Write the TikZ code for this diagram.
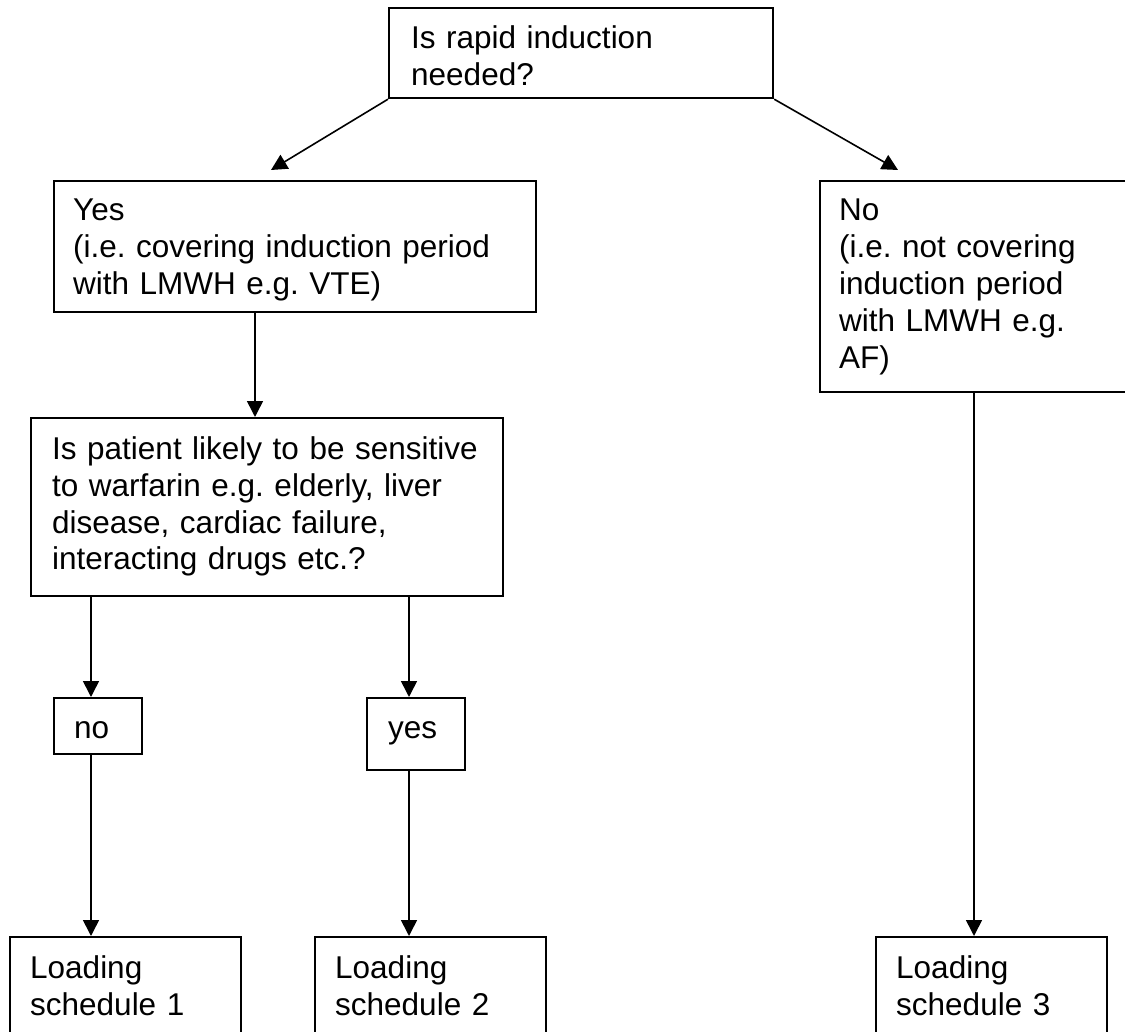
\documentclass[tikz,border=0pt]{standalone}
\usepackage{fontspec}
\setmainfont{Liberation Sans}
\usetikzlibrary{arrows.meta}
\frenchspacing
\begin{document}
\begin{tikzpicture}[x=1pt,y=-1pt,
  box/.style={draw=black, line width=2.2pt, rectangle, inner sep=0pt, anchor=north west},
  txt/.style={anchor=base west, inner sep=0pt, align=left, text width=520pt,
    font=\fontsize{31.5}{37}\selectfont\frenchspacing},
  arr/.style={line width=1.6pt, -{Triangle[length=16pt,width=16pt]}}]
\useasboundingbox (0,0) rectangle (1125,1032);
\clip (0,0) rectangle (1125,1032);

% boxes
\node[box, minimum width=384pt, minimum height=90pt]  (top)  at (388,7)   {};
\node[box, minimum width=482pt, minimum height=131pt] (yesb) at (53,180)  {};
\node[box, minimum width=340pt, minimum height=211pt] (nob)  at (819,180) {};
\node[box, minimum width=472pt, minimum height=178pt] (sens) at (30,417)  {};
\node[box, minimum width=88pt,  minimum height=56pt]  (sno)  at (53,697)  {};
\node[box, minimum width=98pt,  minimum height=72pt]  (syes) at (366,697) {};
\node[box, minimum width=231pt, minimum height=130pt] (lone) at (9,936)   {};
\node[box, minimum width=231pt, minimum height=130pt] (ltwo) at (314,936) {};
\node[box, minimum width=231pt, minimum height=130pt] (lthree) at (875,936) {};

% texts
\node[txt] (ttop)  at (411,49)  {Is rapid induction\\needed?};
\node[txt] (tyes)  at (73,221)  {Yes\\(i.e. covering induction period\\with LMWH e.g. VTE)};
\node[txt] (tno)   at (839,221) {No\\(i.e. not covering\\induction period\\with LMWH e.g.\\AF)};
\node[txt] (tsens) at (52,459)  {Is patient likely to be sensitive\\to warfarin e.g. elderly, liver\\disease, cardiac failure,\\interacting drugs etc.?};
\node[txt] (tsno)  at (74,738)  {no};
\node[txt] (tsyes) at (388,738) {yes};
\node[txt] (tlone) at (30,978)  {Loading\\schedule 1};
\node[txt] (tltwo) at (335,978) {Loading\\schedule 2};
\node[txt] (tlthree) at (896,978) {Loading\\schedule 3};

% connector helpers
\coordinate (yesin) at (271,170);
\coordinate (noin)  at (898,170);
\coordinate (xa) at (255,0);
\coordinate (xb) at (91,0);
\coordinate (xc) at (409,0);
\coordinate (xd) at (974,0);

% connectors
\draw[arr] (top.south west) -- (yesin);
\draw[arr] (top.south east) -- (noin);
\draw[arr] (xa |- yesb.south) -- (xa |- sens.north);
\draw[arr] (xb |- sens.south) -- (xb |- sno.north);
\draw[arr] (xc |- sens.south) -- (xc |- syes.north);
\draw[arr] (xb |- sno.south) -- (xb |- lone.north);
\draw[arr] (xc |- syes.south) -- (xc |- ltwo.north);
\draw[arr] (xd |- nob.south) -- (xd |- lthree.north);
\end{tikzpicture}
\end{document}
